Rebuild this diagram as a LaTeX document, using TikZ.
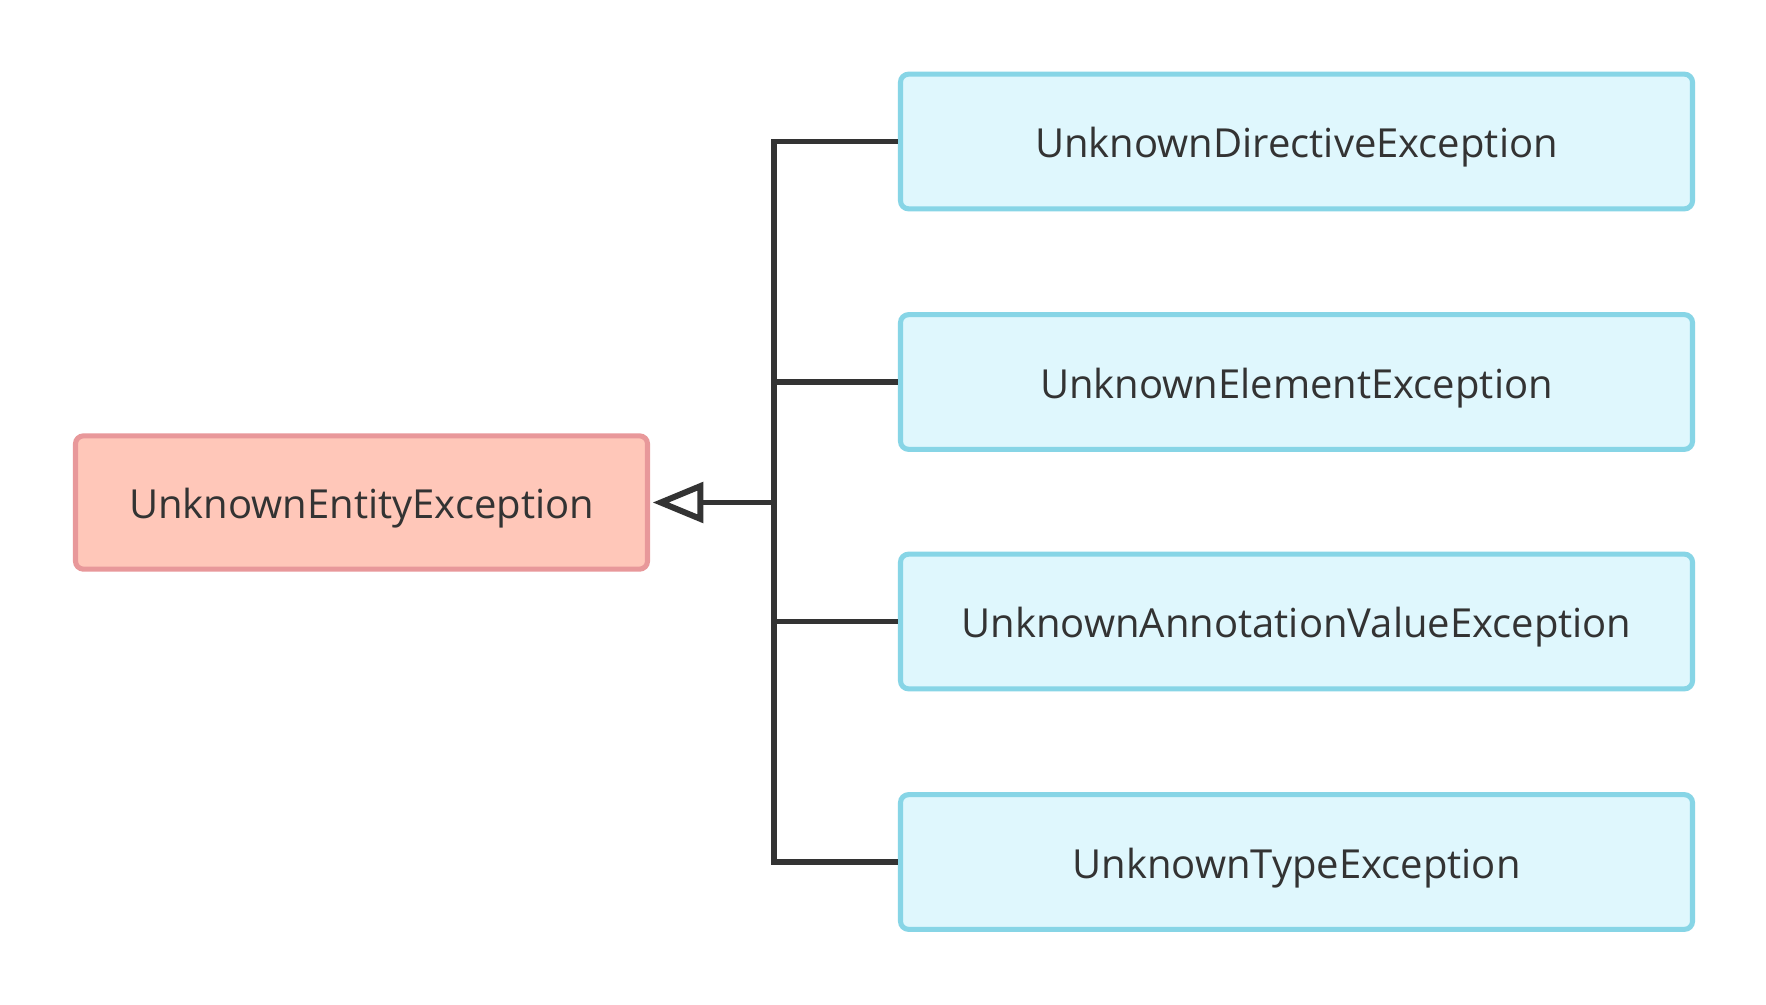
\documentclass[tikz,border=0pt]{standalone}
\usepackage{fontspec}
\setmainfont{Open Sans}
\usetikzlibrary{arrows.meta}
\definecolor{pfill}{HTML}{FFC7B9}
\definecolor{pdraw}{HTML}{E8989A}
\definecolor{cfill}{HTML}{DFF7FD}
\definecolor{cdraw}{HTML}{87D5E6}
\definecolor{ink}{HTML}{333333}
\begin{document}
\begin{tikzpicture}[x=0.75pt,y=-0.75pt,
  box/.style={rounded corners=6pt, line width=3.8pt, inner sep=0pt, text=ink,
    font=\fontsize{30}{34}\selectfont, text height=27pt, text depth=3pt},
  parentbox/.style={box, fill=pfill, draw=pdraw, minimum width=429pt, minimum height=100pt},
  childbox/.style={box, fill=cfill, draw=cdraw, minimum width=594pt, minimum height=101pt},
  conn/.style={draw=ink, line width=4pt, line join=miter}]
\useasboundingbox[fill=white] (0,0) rectangle (1766,1005);
\node[parentbox] (p) at (361.5,502.5) {UnknownEntityException};
\node[childbox] (c1) at (1296.5,141.5) {UnknownDirectiveException};
\node[childbox] (c2) at (1296.5,382) {UnknownElementException};
\node[childbox] (c3) at (1296.5,621.5) {UnknownAnnotationValueException};
\node[childbox] (c4) at (1296.5,862) {UnknownTypeException};
\coordinate (j) at (774,502.5);
\draw[conn] (c1.west) -| (j) |- (c4.west);
\draw[conn] (c2.west) -- (c2.west -| j);
\draw[conn] (c3.west) -- (c3.west -| j);
\draw[conn, -{Triangle[open, length=38pt, width=30pt, line width=4.5pt]}, shorten >=2pt] (j) -- (p.east);
\end{tikzpicture}
\end{document}
